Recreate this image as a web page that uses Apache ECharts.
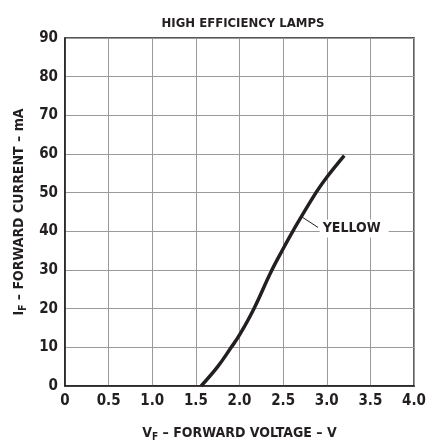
<!DOCTYPE html>
<html>
<head>
<meta charset="utf-8">
<script src="https://cdn.jsdelivr.net/npm/echarts@6/dist/echarts.min.js"></script>
<style>
  html, body { margin: 0; padding: 0; background: #fff; }
  #chart { width: 429px; height: 447px; }
</style>
</head>
<body>
<div id="chart"></div>
<script>
// forward voltage (V) vs forward current (mA), yellow lamp
const voltage = [1.56, 1.75, 1.905, 2.0, 2.165, 2.36, 2.5, 2.62, 2.876, 3.0, 3.2];
const current = [0, 5, 10, 13.2, 20, 29.5, 35.5, 40.4, 50, 54, 59.6];
const xTickLabels = ['0', '0.5', '1.0', '1.5', '2.0', '2.5', '3.0', '3.5', '4.0'];
const yTickLabels = ['0', '10', '20', '30', '40', '50', '60', '70', '80', '90'];
const seriesName = 'YELLOW';
const leaderFrom = [2.71, 43.8];
const leaderTo = [2.9, 41];

// condensed bold face of DejaVu, closest to the narrow type of the original
const FONT = '"DejaVu Sans", sans-serif';
const WEIGHT = 'bold condensed';
const INK = '#231f20';

const chart = echarts.init(document.getElementById('chart'));
chart.setOption({
  animation: false,
  title: {
    text: 'HIGH EFFICIENCY LAMPS',
    left: 238,
    textAlign: 'center',
    top: 12,
    textStyle: { fontFamily: FONT, fontWeight: WEIGHT, fontSize: 13, color: INK }
  },
  grid: {
    left: 65, right: 14, top: 38, bottom: 59,
    show: true, borderColor: INK, borderWidth: 1.5
  },
  xAxis: {
    type: 'value',
    min: 0, max: 4, interval: 0.5,
    axisLine: { lineStyle: { color: INK, width: 1.5 } },
    axisTick: { show: false },
    splitLine: { lineStyle: { color: '#9a9a9a', width: 1 } },
    axisLabel: {
      margin: 8,
      fontFamily: FONT, fontWeight: WEIGHT, fontSize: 15, color: INK,
      formatter: v => xTickLabels[Math.round(v / 0.5)]
    },
    name: '{m|V}{s|F}{m| – FORWARD VOLTAGE – V}',
    nameLocation: 'middle',
    nameGap: 38,
    nameTextStyle: {
      rich: {
        m: { fontFamily: FONT, fontWeight: WEIGHT, fontSize: 14, color: INK },
        s: { fontFamily: FONT, fontWeight: WEIGHT, fontSize: 10, color: INK, padding: [8, 0, 0, 0] }
      }
    }
  },
  yAxis: {
    type: 'value',
    min: 0, max: 90, interval: 10,
    axisLine: { show: true, lineStyle: { color: INK, width: 1.5 } },
    axisTick: { show: false },
    splitLine: { lineStyle: { color: '#9a9a9a', width: 1 } },
    axisLabel: {
      margin: 7,
      fontFamily: FONT, fontWeight: WEIGHT, fontSize: 15, color: INK,
      formatter: v => yTickLabels[Math.round(v / 10)]
    },
    name: '{m|I}{s|F}{m| – FORWARD CURRENT – mA}',
    nameLocation: 'middle',
    nameRotate: 90,
    nameGap: 37,
    nameTextStyle: {
      rich: {
        m: { fontFamily: FONT, fontWeight: WEIGHT, fontSize: 14, color: INK },
        s: { fontFamily: FONT, fontWeight: WEIGHT, fontSize: 10, color: INK, padding: [8, 0, 0, 0] }
      }
    }
  },
  series: [{
    name: seriesName,
    type: 'line',
    smooth: 0.4,
    symbol: 'none',
    data: voltage.map((v, i) => [v, current[i]]),
    lineStyle: { color: INK, width: 3.5 },
    markLine: {
      silent: true,
      symbol: 'none',
      lineStyle: { color: INK, width: 1, type: 'solid' },
      label: {
        show: true,
        position: 'end',
        distance: 2,
        formatter: seriesName,
        fontFamily: FONT, fontWeight: WEIGHT, fontSize: 14, color: INK,
        backgroundColor: '#fff',
        padding: [2, 8, 2, 3]
      },
      data: [[{ coord: leaderFrom }, { coord: leaderTo }]]
    }
  }]
});
</script>
</body>
</html>
